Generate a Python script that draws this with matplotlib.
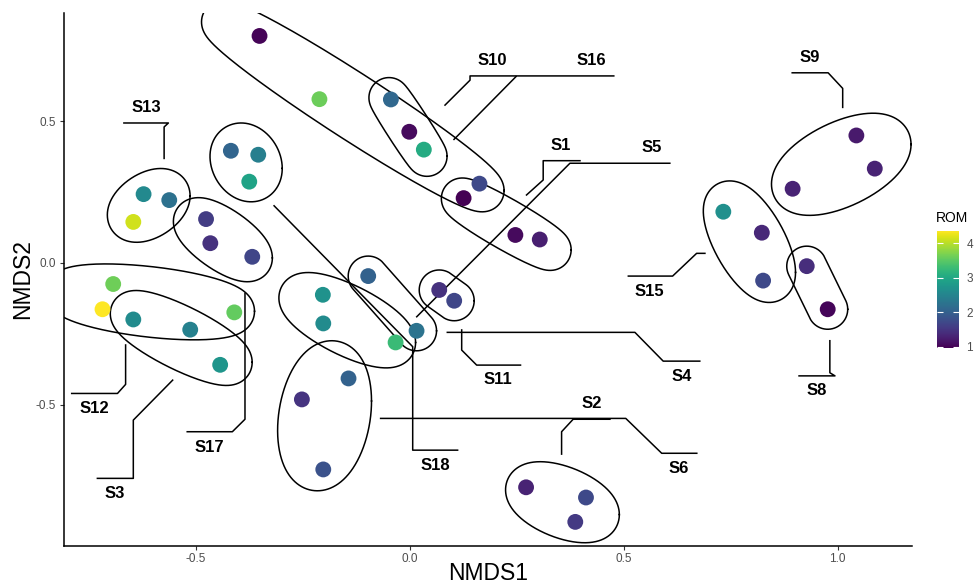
import numpy as np
import matplotlib.pyplot as plt

plt.rcParams['font.family'] = ['Liberation Sans', 'DejaVu Sans']

# NMDS scores of every replicate and its ROM value
nmds1 = [-0.351, -0.211, -0.044, -0.001, 0.033, 0.163, 0.126, 0.247, 0.304,
         -0.622, -0.562, -0.646, -0.418, -0.354, -0.375, -0.476, -0.466, -0.368,
         -0.693, -0.718, -0.646, -0.513, -0.410, -0.443, -0.203, -0.202, -0.143,
         -0.252, -0.202, 0.016, -0.033, 0.069, 0.104, -0.097, 0.272, 0.412,
         0.387, 1.044, 1.087, 0.895, 0.733, 0.823, 0.826, 0.928, 0.977]
nmds2 = [0.800, 0.577, 0.576, 0.462, 0.399, 0.279, 0.228, 0.098, 0.082,
         0.242, 0.221, 0.144, 0.395, 0.381, 0.286, 0.154, 0.069, 0.021,
         -0.075, -0.164, -0.200, -0.236, -0.175, -0.360, -0.113, -0.214, -0.408,
         -0.482, -0.729, -0.240, -0.281, -0.096, -0.134, -0.047, -0.792, -0.828,
         -0.914, 0.449, 0.332, 0.261, 0.180, 0.106, -0.063, -0.012, -0.164]
rom = [1.00, 3.60, 2.10, 1.05, 3.05, 1.72, 0.98, 1.05, 1.25,
       2.57, 2.23, 4.13, 2.06, 2.43, 2.94, 1.58, 1.45, 1.68,
       3.62, 4.37, 2.60, 2.45, 3.55, 2.74, 2.70, 2.60, 2.03,
       1.48, 1.82, 2.26, 3.28, 1.45, 1.68, 2.03, 1.30, 1.72,
       1.55, 1.20, 1.30, 1.30, 2.67, 1.35, 1.72, 1.42, 1.02]

# replicates enclosed by each ellipse
groups = [[0, 1, 5], [2, 3, 4], [6, 7, 8], [9, 10, 11], [12, 13, 14], [15, 16, 17],
          [18, 19, 22], [20, 21, 23], [24, 25, 30], [33, 29], [31, 32], [26, 27, 28],
          [34, 35, 36], [37, 38, 39], [40, 41, 42], [43, 44]]

# sample labels and their leader lines
labels = ['S13', 'S10', 'S16', 'S1', 'S5', 'S9', 'S15', 'S4',
          'S8', 'S11', 'S2', 'S6', 'S18', 'S12', 'S3', 'S17']
label_x = [-0.616, 0.192, 0.424, 0.354, 0.565, 0.936, 0.561, 0.636,
           0.952, 0.206, 0.426, 0.629, 0.059, -0.738, -0.689, -0.468]
label_y = [0.533, 0.697, 0.697, 0.398, 0.389, 0.709, -0.116, -0.417,
           -0.467, -0.429, -0.514, -0.743, -0.731, -0.531, -0.831, -0.667]
leaders = [
    [(-0.668, 0.493), (-0.564, 0.493), (-0.574, 0.479), (-0.574, 0.368)],
    [(0.248, 0.659), (0.141, 0.659), (0.141, 0.644), (0.0825, 0.556)],
    [(0.477, 0.659), (0.250, 0.659), (0.1035, 0.435)],
    [(0.398, 0.360), (0.312, 0.360), (0.312, 0.292), (0.273, 0.239)],
    [(0.608, 0.351), (0.3745, 0.351), (0.0164, -0.1905)],
    [(0.894, 0.670), (0.978, 0.670), (1.012, 0.615), (1.012, 0.548)],
    [(0.511, -0.047), (0.6145, -0.047), (0.6706, 0.0332), (0.690, 0.0332)],
    [(0.678, -0.347), (0.5925, -0.347), (0.5264, -0.2455), (0.0879, -0.2455)],
    [(0.910, -0.399), (0.994, -0.399), (0.982, -0.388), (0.982, -0.275)],
    [(0.259, -0.361), (0.1565, -0.361), (0.1215, -0.308), (0.1215, -0.237)],
    [(0.468, -0.552), (0.382, -0.552), (0.355, -0.596), (0.355, -0.675)],
    [(0.671, -0.672), (0.589, -0.672), (0.505, -0.549), (-0.068, -0.549)],
    [(0.112, -0.661), (0.007, -0.661), (0.007, -0.296), (-0.317, 0.201)],
    [(-0.790, -0.461), (-0.683, -0.461), (-0.664, -0.429), (-0.664, -0.290)],
    [(-0.730, -0.7605), (-0.646, -0.7605), (-0.646, -0.555), (-0.554, -0.414)],
    [(-0.520, -0.596), (-0.4145, -0.596), (-0.385, -0.552), (-0.385, -0.108)],
]

rom_min, rom_max = 0.97, 4.37
expand = 20  # ellipse padding in pixels


def mark_ellipse(ax, idx):
    # smallest ellipse through the replicates (in pixels), padded outward
    pts = ax.transData.transform(np.column_stack([np.take(nmds1, idx), np.take(nmds2, idx)]))
    c = pts.mean(axis=0)
    if len(pts) == 2:
        M = np.column_stack([(pts[1] - pts[0]) / 2, [0.0, 0.0]])
    else:
        M = np.column_stack([pts[0] - c, (pts[1] - pts[2]) / np.sqrt(3)])
    th = np.linspace(0, 2 * np.pi, 1441) + 1e-3
    nv = np.column_stack([np.cos(th), np.sin(th)])
    w = nv @ M
    w /= np.linalg.norm(w, axis=1, keepdims=True)
    out = c + w @ M.T + expand * nv
    xy = ax.transData.inverted().transform(out)
    ax.plot(xy[:, 0], xy[:, 1], color='black', lw=1.1, zorder=2)


fig = plt.figure(figsize=(9.74, 5.86), dpi=100)
ax = fig.add_axes([64 / 974, 1 - 545.7 / 586, 848 / 974, 533 / 586])
ax.set_xlim(-0.808, 1.174)
ax.set_ylim(-0.998, 0.882)

for g in groups:
    mark_ellipse(ax, g)

for name, lx, ly, path in zip(labels, label_x, label_y, leaders):
    px, py = zip(*path)
    ax.plot(px, py, color='black', lw=1.1, zorder=2)
    ax.text(lx, ly, name, ha='center', va='baseline', fontsize=12, fontweight='bold')

sc = ax.scatter(nmds1, nmds2, c=rom, cmap='viridis', vmin=rom_min, vmax=rom_max,
                s=130, edgecolors='none', zorder=3)

ax.set_xticks([-0.5, 0.0, 0.5, 1.0])
ax.set_xticklabels(['-0.5', '0.0', '0.5', '1.0'])
ax.set_yticks([-0.5, 0.0, 0.5])
ax.set_yticklabels(['-0.5', '0.0', '0.5'])
ax.tick_params(direction='out', length=3, width=0.8, color='#333333',
               labelsize=8.5, labelcolor='#4d4d4d', pad=2.5)
for side in ['top', 'right']:
    ax.spines[side].set_visible(False)
for side in ['left', 'bottom']:
    ax.spines[side].set_linewidth(1.1)
    ax.spines[side].set_color('black')

fig.text(488 / 974, 1 - 580.5 / 586, 'NMDS1', ha='center', va='baseline', fontsize=16.5)
fig.text(22.5 / 974, 1 - 279 / 586, 'NMDS2', ha='center', va='center',
         rotation=90, fontsize=16.5)

cax = fig.add_axes([936.7 / 974, 1 - 347.7 / 586, 22.6 / 974, 117 / 586])
cb = fig.colorbar(sc, cax=cax, ticks=[1, 2, 3, 4])
cb.outline.set_visible(False)
cax.tick_params(axis='y', direction='in', length=4.5, width=0.8, color='white',
                labelsize=8.5, labelcolor='#4d4d4d', pad=5, left=True, right=True)
fig.text(936 / 974, 1 - 221.7 / 586, 'ROM', ha='left', va='baseline', fontsize=10)

fig.savefig('out.png', dpi=100)
plt.close(fig)
